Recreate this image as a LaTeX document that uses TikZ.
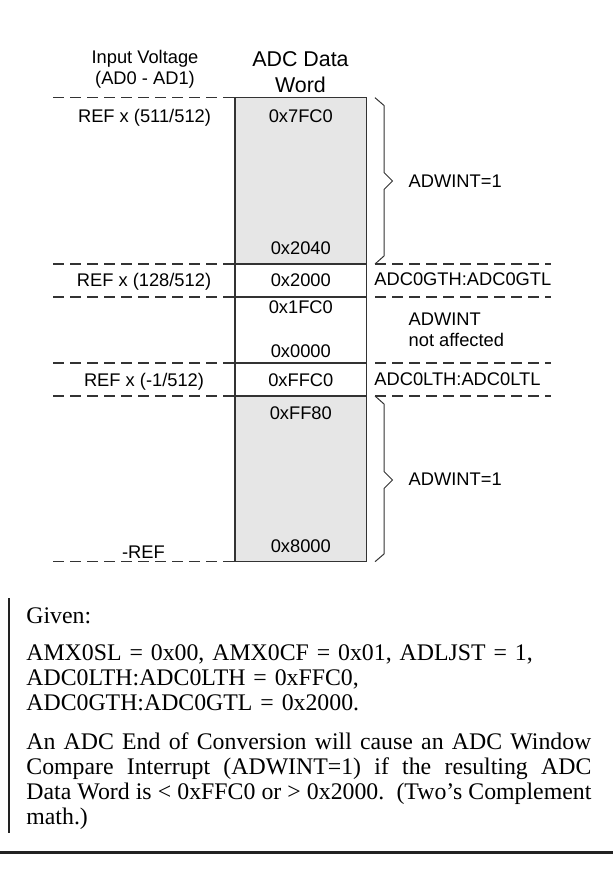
\documentclass[tikz,border=0pt]{standalone}
\usepackage{fontspec}
\setmainfont{Liberation Serif}
\newfontfamily\labelfont{Liberation Sans}
\definecolor{linegray}{HTML}{333333}
\definecolor{cellfill}{HTML}{E6E6E6}
\definecolor{rulegray}{HTML}{222222}
\begin{document}
\begin{tikzpicture}[x=0.5pt,y=-0.5pt,
  lbl/.style={font=\labelfont\fontsize{9.15}{11}\selectfont, inner sep=0pt, anchor=base},
  lblw/.style={lbl, anchor=base west},
  head/.style={font=\labelfont\fontsize{10.7}{12.5}\selectfont, inner sep=0pt, anchor=base},
  level/.style={draw=linegray, line width=0.65pt, dash pattern=on 5.5pt off 3pt},
  cell/.style={draw=linegray, line width=0.75pt},
  brace/.style={draw=linegray, line width=0.5pt, line join=miter},
  body/.style={font=\fontsize{11.9}{12.5}\selectfont, inner sep=0pt, anchor=base west,
               text width=282.5pt},
]
\useasboundingbox (0,0) rectangle (613,870);

% row boundaries of the data word column
\coordinate (tl) at (235,97.7);
\coordinate (br) at (366.7,561.7);

% shaded ranges where the window interrupt fires
\fill[cellfill] (235,97.7) rectangle (366.7,264);
\fill[cellfill] (235,396) rectangle (366.7,561.7);

% column outline and row separators
\draw[cell] (tl) rectangle (br);
\foreach \yy in {264,297,363,396}
  \draw[cell] (235,\yy) -- (366.7,\yy);

% dashed voltage levels on the left
\foreach \yy in {97.7,264,297,363,396,561.7}
  \draw[level] (53,\yy) -- (235,\yy);
% dashed threshold levels on the right
\foreach \yy in {264,297,363,396}
  \draw[level] (375,\yy) -- (551,\yy);

% braces
\draw[brace] (375,97.7) -- (384,105.5) -- (384,172.5) -- (392.5,181)
  -- (384,189.5) -- (384,256) -- (375,264);
\draw[brace] (375,396) -- (384,404) -- (384,471.5) -- (392.5,480)
  -- (384,488.5) -- (384,554) -- (375,561.7);

% column headings
\node[lbl] (iv1) at (145,63.3) {Input Voltage};
\node[lbl] (iv2) at (145,85) {(AD0 - AD1)};
\node[head] (dw1) at (300.5,67) {ADC Data};
\node[head] (dw2) at (300.5,92.8) {Word};

% input voltage levels
\node[lbl] (v1) at (144.5,122.4) {REF x (511/512)};
\node[lbl] (v2) at (144,286.8) {REF x (128/512)};
\node[lbl] (v3) at (144,386.7) {REF x (-1/512)};
\node[lbl] (v4) at (143.5,558.3) {-REF};

% data word codes
\node[lbl] (c1) at (300.8,122.4) {0x7FC0};
\node[lbl] (c2) at (300.8,255) {0x2040};
\node[lbl] (c3) at (300.8,286.8) {0x2000};
\node[lbl] (c4) at (300.8,314) {0x1FC0};
\node[lbl] (c5) at (300.8,357.3) {0x0000};
\node[lbl] (c6) at (300.8,386.7) {0xFFC0};
\node[lbl] (c7) at (300.8,419.3) {0xFF80};
\node[lbl] (c8) at (300.8,552.7) {0x8000};

% interrupt ranges and thresholds
\node[lblw] (w1) at (408.3,187.3) {ADWINT=1};
\node[lblw] (gt) at (374,285.7) {ADC0GTH:ADC0GTL};
\node[lblw] (na1) at (408.3,325.7) {ADWINT};
\node[lblw] (na2) at (408.3,346.7) {not affected};
\node[lblw] (lt) at (374,386) {ADC0LTH:ADC0LTL};
\node[lblw] (w2) at (408.3,485.7) {ADWINT=1};

% notes
\draw[draw=rulegray, line width=1pt] (9,598) -- (9,833);
\node[body] (given) at (26,623) {Given:};
\node[body, align=left] (settings) at (26,660)
  {AMX0SL = 0x00, AMX0CF = 0x01, ADLJST = 1,\\
   ADC0LTH:ADC0LTH = 0xFFC0,\\
   ADC0GTH:ADC0GTL = 0x2000.};
\node[body, align=justify] (note) at (26,749)
  {An ADC End of Conversion will cause an ADC Window\linebreak
   Compare Interrupt (ADWINT=1) if the resulting ADC\linebreak
   Data Word is < 0xFFC0 or > 0x2000.\ \ (Two’s Complement\linebreak
   math.)};

% bottom rule
\draw[draw=rulegray, line width=1.5pt] (0,852) -- (613,852);
\end{tikzpicture}
\end{document}
